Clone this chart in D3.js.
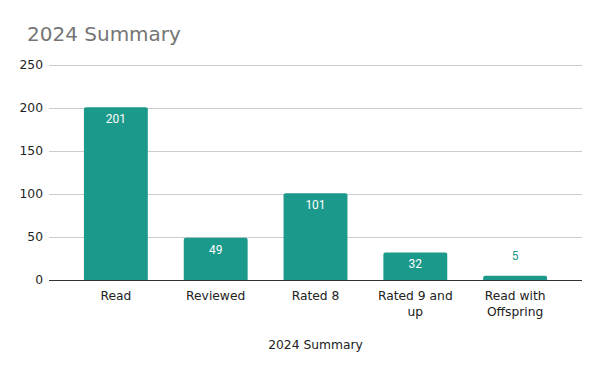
<!DOCTYPE html>
<html><head><meta charset="utf-8">
<script src="https://cdn.jsdelivr.net/npm/d3@7"></script>
<style>body{margin:0;background:#fff}svg{display:block}</style>
</head><body><svg id="c" width="600" height="371"></svg>
<script>
const categories = ["Read", "Reviewed", "Rated 8", "Rated 9 and up", "Read with Offspring"];
const categoryLines = [["Read"], ["Reviewed"], ["Rated 8"], ["Rated 9 and", "up"], ["Read with", "Offspring"]];
const values = [201, 49, 101, 32, 5];
const yTicks = [0, 50, 100, 150, 200, 250];
const title = "2024 Summary";
const xTitle = "2024 Summary";

(function () {
const svg = d3.select("#c");
const pLeft = 49, pRight = 582, pTop = 65, pBottom = 280;
const color = "#1b998b";

const x = d3.scaleBand().domain(categories).range([pLeft, pRight]).paddingInner(0.36).paddingOuter(0.35);
const y = d3.scaleLinear().domain([0, 250]).range([pBottom, pTop]);

svg.append("text").attr("x", 27).attr("y", 41).attr("fill", "#757575")
  .attr("font-family", "DejaVu Sans").attr("font-size", 20).text(title);

// grid
svg.append("g").selectAll("line").data(yTicks.filter(d => d > 0)).join("line")
  .attr("x1", pLeft).attr("x2", pRight).attr("y1", d => y(d) + 0.5).attr("y2", d => y(d) + 0.5)
  .attr("stroke", "#cccccc").attr("stroke-width", 1);

const yAxis = d3.axisLeft(y).tickValues(yTicks).tickSize(0).tickPadding(6);
const gy = svg.append("g").attr("transform", `translate(${pLeft},0)`).call(yAxis);
gy.select(".domain").remove();
gy.selectAll("text").attr("font-family", "DejaVu Sans").attr("font-size", 12.3).attr("fill", "#222");

// bars with rounded top
const r = 2;
svg.append("g").selectAll("path").data(values).join("path")
  .attr("fill", color)
  .attr("d", (d, i) => {
    const x0 = x(categories[i]), w = x.bandwidth(), y0 = y(d), y1 = y(0);
    const rr = Math.min(r, (y1 - y0));
    return `M${x0},${y1}V${y0 + rr}Q${x0},${y0} ${x0 + rr},${y0}H${x0 + w - rr}Q${x0 + w},${y0} ${x0 + w},${y0 + rr}V${y1}Z`;
  });

// baseline
svg.append("line").attr("x1", pLeft).attr("x2", pRight).attr("y1", y(0) + 0.5).attr("y2", y(0) + 0.5)
  .attr("stroke", "#333").attr("stroke-width", 1);

// data labels
svg.append("g").selectAll("text").data(values).join("text")
  .attr("x", (d, i) => x(categories[i]) + x.bandwidth() / 2)
  .attr("y", d => (y(0) - y(d) > 24) ? y(d) + 16 : y(d) - 16)
  .attr("fill", d => (y(0) - y(d) > 24) ? "#ffffff" : color)
  .attr("text-anchor", "middle").attr("font-family", "Roboto").attr("font-size", 12)
  .text(d => d);

// x labels
const gx = svg.append("g");
categoryLines.forEach((lines, i) => {
  const t = gx.append("text").attr("text-anchor", "middle")
    .attr("font-family", "DejaVu Sans").attr("font-size", 12.3).attr("fill", "#222");
  lines.forEach((l, j) => t.append("tspan").attr("x", x(categories[i]) + x.bandwidth() / 2)
    .attr("y", 300 + j * 16).text(l));
});

svg.append("text").attr("x", (pLeft + pRight) / 2).attr("y", 349).attr("text-anchor", "middle")
  .attr("font-family", "DejaVu Sans").attr("font-size", 12.3).attr("fill", "#222").text(xTitle);
})();
</script></body></html>
